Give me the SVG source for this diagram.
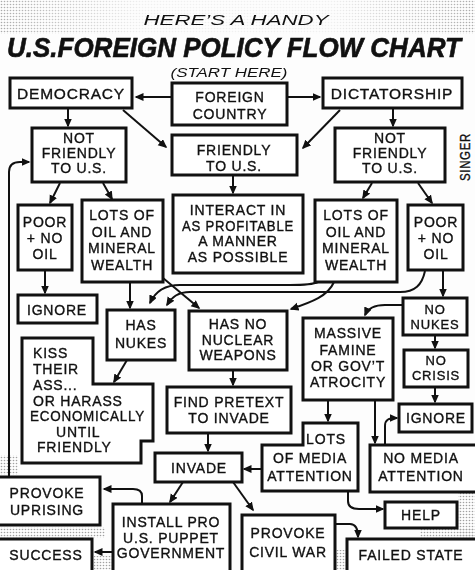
<svg xmlns="http://www.w3.org/2000/svg" width="475" height="570" viewBox="0 0 475 570">
<defs>
<style>
.box{fill:#fff;stroke:#111;stroke-width:3;stroke-linejoin:miter}
.t{font-family:"Liberation Sans",Arial,sans-serif;font-size:14px;fill:#111;stroke:#111;stroke-width:0.35;text-anchor:middle;letter-spacing:0.8px}
.tl{text-anchor:start}
.big{font-size:15.5px}
.sm{font-size:13px}
.c{fill:none;stroke:#111;stroke-width:2;marker-end:url(#ah)}
.hd{font-family:"Liberation Sans",Arial,sans-serif;font-style:italic;fill:#111}
</style>
<marker id="ah" markerUnits="userSpaceOnUse" markerWidth="10" markerHeight="10" refX="7.5" refY="4" orient="auto">
<path d="M0,0 L9,4 L0,8 z" fill="#111"/>
</marker>
<pattern id="dots" width="3" height="3" patternUnits="userSpaceOnUse">
<circle cx="1.5" cy="1.5" r="0.8" fill="#555"/>
</pattern>
<linearGradient id="fadeTop" x1="0" y1="0" x2="1" y2="0">
<stop offset="0" stop-color="#fff" stop-opacity="0.9"/>
<stop offset="0.3" stop-color="#fff" stop-opacity="0.15"/>
<stop offset="0.7" stop-color="#fff" stop-opacity="0.15"/>
<stop offset="1" stop-color="#fff" stop-opacity="0.9"/>
</linearGradient>
<mask id="mTop"><rect x="0" y="0" width="475" height="34" fill="url(#fadeTop)"/></mask>
</defs>
<rect x="0" y="0" width="475" height="570" fill="#fdfdfd"/>
<g id="halftone" opacity="0.55">
<rect x="0" y="0" width="475" height="34" fill="url(#dots)" mask="url(#mTop)"/>
<rect x="0" y="455" width="18" height="20" fill="url(#dots)"/>
<rect x="0" y="527" width="105" height="11" fill="url(#dots)"/>
<rect x="94" y="556" width="18" height="14" fill="url(#dots)"/>
<rect x="336" y="550" width="10" height="20" fill="url(#dots)"/>
<rect x="458" y="490" width="17" height="48" fill="url(#dots)"/>
<rect x="420" y="528" width="55" height="10" fill="url(#dots)"/>
</g>
<g id="title">
<text class="hd" x="236" y="25" font-size="14" text-anchor="middle" textLength="185" lengthAdjust="spacingAndGlyphs">HERE’S A HANDY</text>
<text class="hd" x="7" y="0" transform="translate(0 57) scale(1 1.08)" font-size="26" font-weight="bold" stroke="#111" stroke-width="0.6">U.S.FOREIGN POLICY FLOW CHART</text>
<text class="hd" x="229" y="77" font-size="13" text-anchor="middle" textLength="117" lengthAdjust="spacingAndGlyphs">(START HERE)</text>
<text class="t" transform="rotate(-90 470 157)" x="470" y="157" font-size="12" textLength="48" lengthAdjust="spacingAndGlyphs">SINGER</text>
</g>
<g id="connectors">
<path class="c" d="M172 97 L136 97"/>
<path class="c" d="M287 97 L320 97"/>
<path class="c" d="M68 108 L68 126"/>
<path class="c" d="M123 110 L166 147"/>
<path class="c" d="M340 110 L303 148"/>
<path class="c" d="M393 108 L393 126"/>
<path class="c" d="M60 183 L50 203"/>
<path class="c" d="M103 183 L112 199"/>
<path class="c" d="M233 175 L233 193"/>
<path class="c" d="M372 183 L363 198"/>
<path class="c" d="M418 183 L432 203"/>
<path class="c" d="M45 270 L45 293"/>
<path class="c" d="M130 282 L130 308"/>
<path class="c" d="M163 278 L199 308"/>
<path class="c" d="M318 282 C312 285 300 285 290 285 L180 285 C165 285 155 292 150 303"/>
<path class="c" d="M425 271 C422 285 415 292 400 292 L190 292 C178 292 172 297 167 305"/>
<path class="c" d="M334 282 C328 296 312 302 291 309"/>
<path class="c" d="M443 270 L443 296"/>
<path class="c" d="M403 305 L385 305 C375 305 368 308 365 315"/>
<path class="c" d="M435 335 L435 348"/>
<path class="c" d="M127 360 L114 382"/>
<path class="c" d="M233 370 L233 385"/>
<path class="c" d="M435 387 L435 402"/>
<path class="c" d="M328 400 L328 421"/>
<path class="c" d="M375 400 L375 443"/>
<path class="c" d="M385 445 L385 426 C385 420 388 418 397 418"/>
<path class="c" d="M208 433 L208 451"/>
<path class="c" d="M262 469 L244 469"/>
<path class="c" d="M348 491 L348 501 C348 506 352 509 359 509 L383 509"/>
<path class="c" d="M183 482 L170 502"/>
<path class="c" d="M233 482 L253 510"/>
<path class="c" d="M142 504 L142 496 C142 491 139 489 133 489 L104 489"/>
<path class="c" d="M113 552 L95 552"/>
<path class="c" d="M335 524 L350 524 C355 524 358 528 358 537"/>
<path class="c" d="M9 476 L9 172 C9 165 13 162 20 162 L29 162"/>
</g>
<g id="democracy"><rect class="box" x="10" y="78" width="122" height="30"/><text class="t big" x="71" y="99">DEMOCRACY</text></g>
<g id="foreign-country"><rect class="box" x="172" y="83" width="115" height="42"/><text class="t" font-size="14.5"><tspan x="230" y="102">FOREIGN</tspan><tspan x="230" y="118.5">COUNTRY</tspan></text></g>
<g id="dictatorship"><rect class="box" x="323" y="78" width="139" height="30"/><text class="t big" x="392" y="99">DICTATORSHIP</text></g>
<g id="not-friendly-left"><rect class="box" x="32" y="128" width="94" height="54"/><text class="t"><tspan x="79" y="143">NOT</tspan><tspan x="79" y="158">FRIENDLY</tspan><tspan x="79" y="173">TO U.S.</tspan></text></g>
<g id="friendly"><rect class="box" x="172" y="135" width="125" height="40"/><text class="t" font-size="14.5"><tspan x="234" y="155">FRIENDLY</tspan><tspan x="234" y="171">TO U.S.</tspan></text></g>
<g id="not-friendly-right"><rect class="box" x="335" y="128" width="110" height="54"/><text class="t"><tspan x="390" y="143">NOT</tspan><tspan x="390" y="158">FRIENDLY</tspan><tspan x="390" y="173">TO U.S.</tspan></text></g>
<g id="poor-left"><rect class="box" x="18" y="205" width="54" height="65"/><text class="t"><tspan x="45" y="227">POOR</tspan><tspan x="45" y="243">+ NO</tspan><tspan x="45" y="259">OIL</tspan></text></g>
<g id="lots-left"><rect class="box" x="82" y="200" width="81" height="82"/><text class="t"><tspan x="122" y="220">LOTS OF</tspan><tspan x="122" y="237">OIL AND</tspan><tspan x="122" y="253">MINERAL</tspan><tspan x="122" y="270">WEALTH</tspan></text></g>
<g id="interact"><rect class="box" x="173" y="195" width="130" height="78"/><text class="t"><tspan x="238" y="215">INTERACT IN</tspan><tspan x="238" y="231" textLength="112" lengthAdjust="spacingAndGlyphs">AS PROFITABLE</tspan><tspan x="238" y="246">A  MANNER</tspan><tspan x="238" y="262">AS POSSIBLE</tspan></text></g>
<g id="lots-right"><rect class="box" x="315" y="200" width="82" height="82"/><text class="t"><tspan x="356" y="220">LOTS OF</tspan><tspan x="356" y="237">OIL AND</tspan><tspan x="356" y="253">MINERAL</tspan><tspan x="356" y="270">WEALTH</tspan></text></g>
<g id="poor-right"><rect class="box" x="408" y="205" width="55" height="65"/><text class="t"><tspan x="436" y="227">POOR</tspan><tspan x="436" y="243">+ NO</tspan><tspan x="436" y="259">OIL</tspan></text></g>
<g id="ignore-left"><rect class="box" x="18" y="295" width="79" height="28"/><text class="t" x="57" y="315">IGNORE</text></g>
<g id="has-nukes"><rect class="box" x="107" y="310" width="68" height="50"/><text class="t"><tspan x="141" y="330">HAS</tspan><tspan x="141" y="348">NUKES</tspan></text></g>
<g id="has-no-nukes"><rect class="box" x="189" y="311" width="98" height="59"/><text class="t"><tspan x="238" y="329">HAS NO</tspan><tspan x="238" y="345">NUCLEAR</tspan><tspan x="238" y="360">WEAPONS</tspan></text></g>
<g id="massive-famine"><rect class="box" x="303" y="318" width="90" height="82"/><text class="t"><tspan x="348" y="338">MASSIVE</tspan><tspan x="348" y="355">FAMINE</tspan><tspan x="348" y="371">OR GOV’T</tspan><tspan x="348" y="387">ATROCITY</tspan></text></g>
<g id="no-nukes"><rect class="box" x="403" y="298" width="64" height="37"/><text class="t sm"><tspan x="435" y="313.5">NO</tspan><tspan x="435" y="328.5">NUKES</tspan></text></g>
<g id="no-crisis"><rect class="box" x="404" y="350" width="64" height="37"/><text class="t sm"><tspan x="436" y="365">NO</tspan><tspan x="436" y="380">CRISIS</tspan></text></g>
<g id="kiss"><path class="box" d="M22 338 L93 338 L93 384 L153 384 L153 441 L141 441 L141 463 L22 463 Z"/><text class="t tl"><tspan x="33" y="358">KISS</tspan><tspan x="33" y="374">THEIR</tspan><tspan x="33" y="390">ASS...</tspan><tspan x="33" y="406">OR HARASS</tspan><tspan x="30" y="421" textLength="115" lengthAdjust="spacingAndGlyphs">ECONOMICALLY</tspan><tspan x="56" y="437">UNTIL</tspan><tspan x="37" y="452">FRIENDLY</tspan></text></g>
<g id="find-pretext"><rect class="box" x="167" y="387" width="124" height="46"/><text class="t"><tspan x="229" y="407">FIND PRETEXT</tspan><tspan x="229" y="423">TO INVADE</tspan></text></g>
<g id="invade"><rect class="box" x="155" y="453" width="87" height="29"/><text class="t" x="199" y="473">INVADE</text></g>
<g id="lots-media"><path class="box" d="M303 423 L358 423 L358 491 L262 491 L262 445 L303 445 Z"/><text class="t"><tspan x="326" y="444">LOTS</tspan><tspan x="310" y="463">OF MEDIA</tspan><tspan x="310" y="481">ATTENTION</tspan></text></g>
<g id="ignore-right"><rect class="box" x="399" y="404" width="73" height="28"/><text class="t" x="436" y="423">IGNORE</text></g>
<g id="no-media"><rect class="box" x="370" y="445" width="110" height="47"/><text class="t"><tspan x="421" y="463">NO MEDIA</tspan><tspan x="421" y="481">ATTENTION</tspan></text></g>
<g id="help"><rect class="box" x="385" y="502" width="72" height="26"/><text class="t" x="421" y="520">HELP</text></g>
<g id="provoke-uprising"><rect class="box" x="-5" y="477" width="105" height="48"/><text class="t"><tspan x="47" y="498">PROVOKE</tspan><tspan x="47" y="515">UPRISING</tspan></text></g>
<g id="install-puppet"><rect class="box" x="113" y="504" width="117" height="80"/><text class="t"><tspan x="171" y="527">INSTALL PRO</tspan><tspan x="171" y="543">U.S. PUPPET</tspan><tspan x="171" y="558">GOVERNMENT</tspan></text></g>
<g id="civil-war"><rect class="box" x="242" y="515" width="93" height="70"/><text class="t"><tspan x="288" y="538">PROVOKE</tspan><tspan x="288" y="557">CIVIL WAR</tspan></text></g>
<g id="failed-state"><rect class="box" x="347" y="539" width="135" height="50"/><text class="t" x="411" y="560">FAILED STATE</text></g>
<g id="success"><rect class="box" x="-5" y="539" width="97" height="50"/><text class="t" x="46" y="560">SUCCESS</text></g>
</svg>
